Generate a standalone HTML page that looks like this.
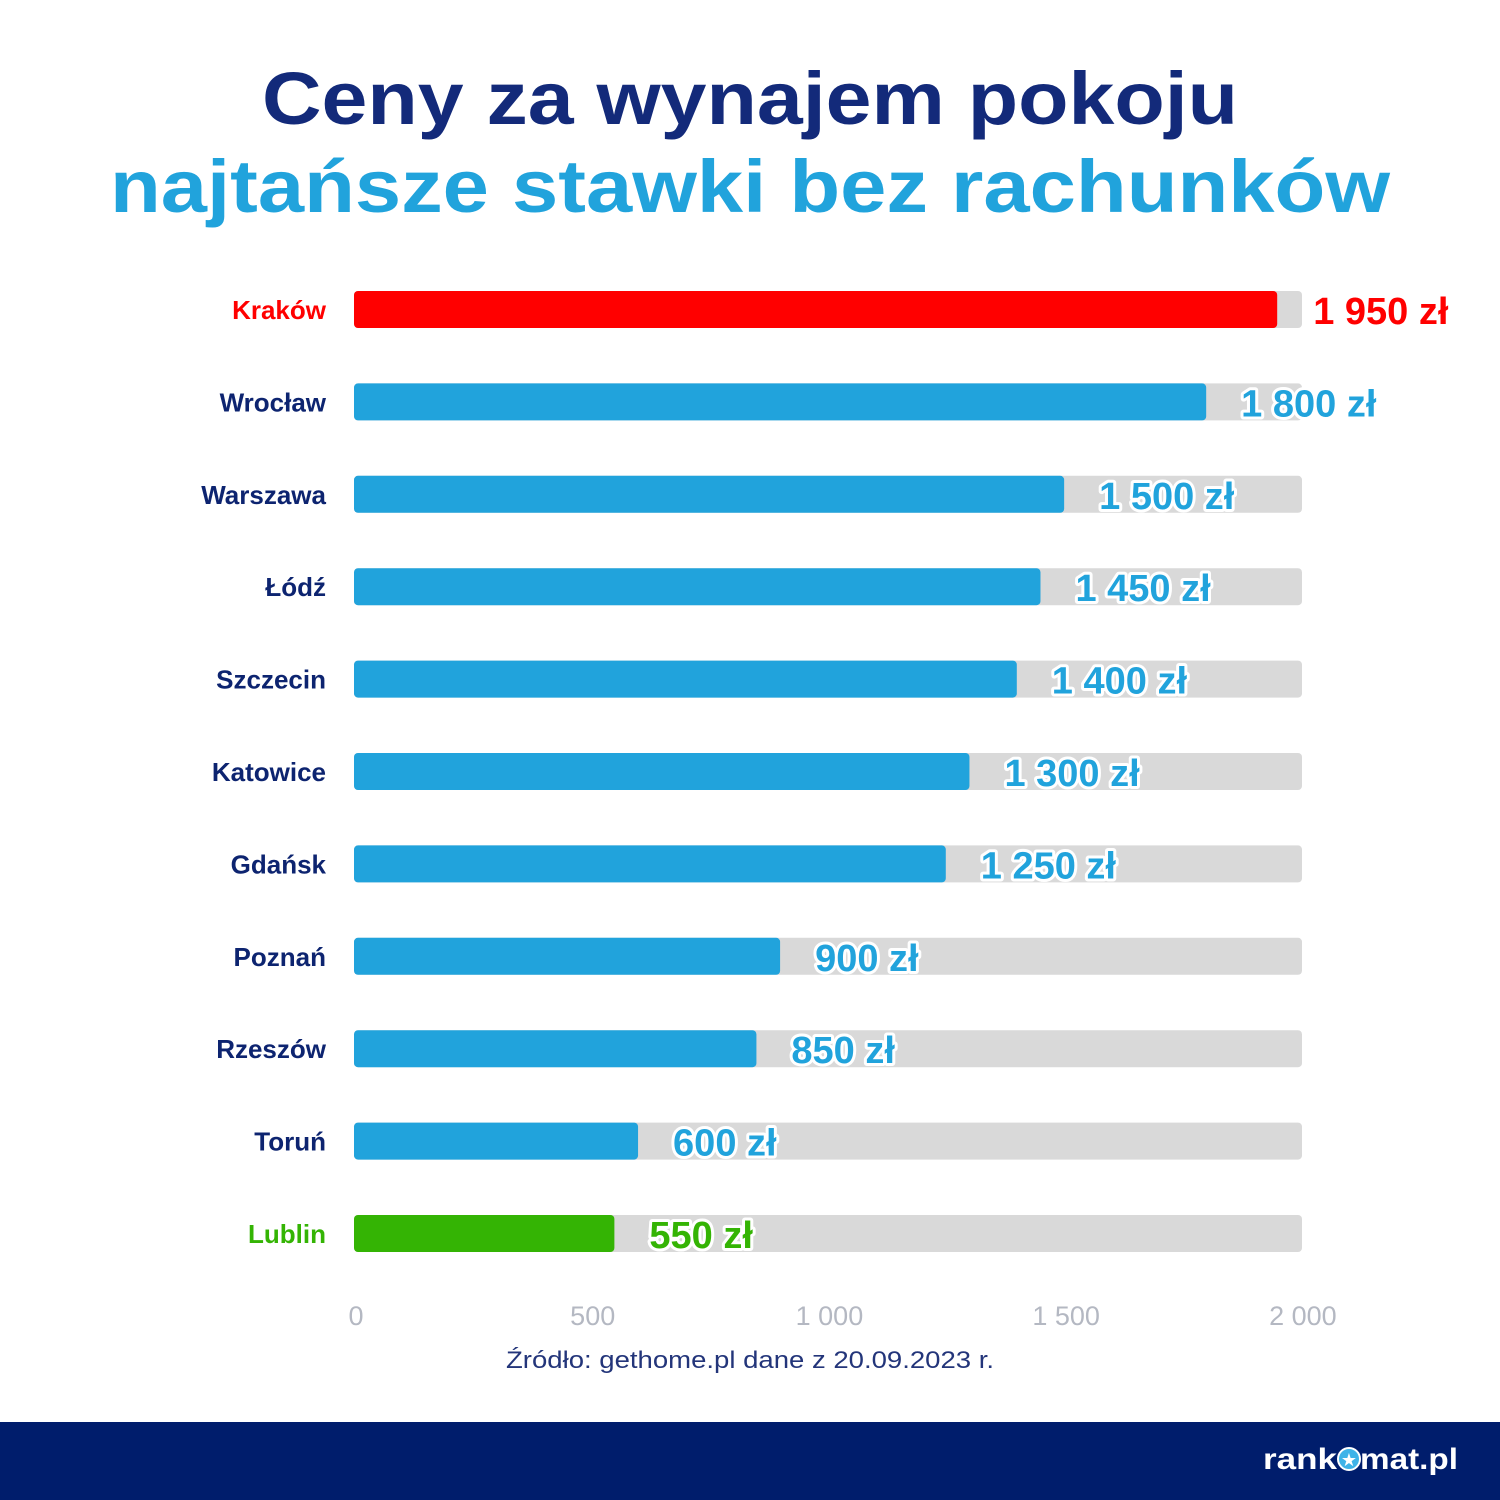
<!DOCTYPE html>
<html><head><meta charset="utf-8"><style>
html,body{margin:0;padding:0;background:#fff}
svg{display:block}
text{font-family:"Liberation Sans",sans-serif}
</style></head><body>
<svg id="chart" width="1500" height="1500" viewBox="0 0 1500 1500" xmlns="http://www.w3.org/2000/svg">
<rect width="1500" height="1500" fill="#fff"/>
<text x="750" y="124" text-anchor="middle" font-size="74" font-weight="bold" fill="#132a7a" textLength="976" lengthAdjust="spacingAndGlyphs">Ceny za wynajem pokoju</text>
<text x="750" y="212" text-anchor="middle" font-size="74" font-weight="bold" fill="#21a3dc" textLength="1280" lengthAdjust="spacingAndGlyphs">najtańsze stawki bez rachunków</text>
<g id="bars"></g>
<g id="ticks"></g>
<text x="750" y="1368" text-anchor="middle" font-size="24" fill="#23357a" textLength="488" lengthAdjust="spacingAndGlyphs">Źródło: gethome.pl dane z 20.09.2023 r.</text>
<rect x="0" y="1422" width="1500" height="78" fill="#001d6c"/>
<g>
<text x="1263" y="1469" font-size="30" font-weight="bold" fill="#fff" textLength="74" lengthAdjust="spacingAndGlyphs">rank</text>
<circle cx="1349" cy="1459" r="11" fill="#3fb3e8" stroke="#fff" stroke-width="2"/>
<text x="1349" y="1466" font-size="18" text-anchor="middle" fill="#fff">★</text>
<text x="1360" y="1469" font-size="30" font-weight="bold" fill="#fff" textLength="98" lengthAdjust="spacingAndGlyphs">mat.pl</text>
</g>
</svg>
<script>
const cities=["Kraków","Wrocław","Warszawa","Łódź","Szczecin","Katowice","Gdańsk","Poznań","Rzeszów","Toruń","Lublin"];
const values=[1950,1800,1500,1450,1400,1300,1250,900,850,600,550];
const valueLabels=["1 950 zł","1 800 zł","1 500 zł","1 450 zł","1 400 zł","1 300 zł","1 250 zł","900 zł","850 zł","600 zł","550 zł"];
const tickValues=[0,500,1000,1500,2000];
const tickLabels=["0","500","1 000","1 500","2 000"];
const maxVal=2000;
const NS="http://www.w3.org/2000/svg";
const x0=354,x1=1302;
function xs(v){return x0+v*(x1-x0)/maxVal*0.9988;}
function ys(i){return 291+i*92.4;}
function mk(t,a,p){const e=document.createElementNS(NS,t);for(const k in a)e.setAttribute(k,a[k]);p.appendChild(e);return e;}
const gb=document.getElementById('bars');
cities.forEach((c,i)=>{
  const col=i===0?"#ff0000":(i===cities.length-1?"#34b404":"#21a3dc");
  const lab=i===0?"#ff0000":(i===cities.length-1?"#34b404":"#0d2470");
  const y=ys(i);
  const bg=mk('rect',{x:x0,y:y,width:x1-x0,height:37,rx:4,fill:"#d9d9d9"},gb);
  
  
  const b=mk('rect',{x:x0,y:y,width:xs(values[i])-x0,height:37,rx:4,fill:col},gb);
  
  
  const t=mk('text',{x:326,y:y+28,"text-anchor":"end","font-size":26,"font-weight":"bold",fill:lab},gb);
  t.textContent=c;
  
  
  const v=mk('text',{x:xs(values[i])+(i===0?36:35),y:y+33,"font-size":38,"font-weight":"bold",fill:col,stroke:i===0?"none":"#fff","stroke-width":6,"paint-order":"stroke","stroke-linejoin":"round"},gb);
  v.textContent=valueLabels[i];
  
  
});
const gt=document.getElementById('ticks');
tickValues.forEach((tv,i)=>{
  const t=mk('text',{x:xs(tv)+2,y:1325,"text-anchor":"middle","font-size":27,fill:"#b4b8c2"},gt);
  t.textContent=tickLabels[i];
  
  
});
</script>
</body></html>
